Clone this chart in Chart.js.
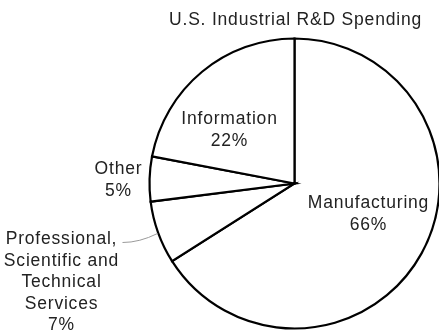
<!DOCTYPE html>
<html>
<head>
<meta charset="utf-8">
<script src="https://cdn.jsdelivr.net/npm/chart.js@4.4.1/dist/chart.umd.min.js"></script>
<style>
  html, body { margin: 0; padding: 0; background: #fff; }
  #wrap { width: 439px; height: 331px; }
</style>
</head>
<body>
<div id="wrap"><canvas id="piechart"></canvas></div>
<script>
var chartTitle = "U.S. Industrial R&D Spending";
var sectors = ["Manufacturing", "Professional, Scientific and Technical Services", "Other", "Information"];
var shares = [66, 7, 5, 22];
var labelLines = [
  ["Manufacturing"],
  ["Professional,", "Scientific and", "Technical", "Services"],
  ["Other"],
  ["Information"]
];

// label block centres, measured from the pie centre
var labelSpots = [
  { dx: 74, dy: 20 },
  { dx: -233, dy: 56 },
  { dx: -176, dy: -14 },
  { dx: -65, dy: -64 }
];

var fontFamily = "'Liberation Sans', Arial, Helvetica, sans-serif";

var sliceLabels = {
  id: "sliceLabels",
  afterDatasetsDraw: function(chart) {
    var ctx = chart.ctx;
    var arc = chart.getDatasetMeta(0).data[0];
    var cx = arc.x, cy = arc.y;
    var lineH = 21.5;

    ctx.save();
    // thin leader line for the small professional services slice
    ctx.strokeStyle = "#9a9a9a";
    ctx.lineWidth = 1;
    ctx.beginPath();
    ctx.moveTo(cx - 172, cy + 59);
    ctx.quadraticCurveTo(cx - 155, cy + 59, cx - 137, cy + 50);
    ctx.stroke();

    ctx.fillStyle = "#222";
    ctx.font = "17.5px " + fontFamily;
    ctx.letterSpacing = "0.8px";
    ctx.textAlign = "center";
    ctx.textBaseline = "middle";

    ctx.fillText(chartTitle, cx + 1, 20);

    shares.forEach(function(v, i) {
      var lines = labelLines[i].concat([v + "%"]);
      var x = cx + labelSpots[i].dx;
      var y = cy + labelSpots[i].dy;
      lines.forEach(function(t, k) {
        ctx.fillText(t, x, y + k * lineH);
      });
    });
    ctx.restore();
  }
};

var ctx = document.getElementById("piechart").getContext("2d");
var myPieChart = new Chart(ctx, {
  type: "pie",
  data: {
    labels: sectors,
    datasets: [{
      data: shares,
      radius: 145,
      backgroundColor: "#fff",
      borderColor: "#000",
      borderWidth: 2.2,
      borderJoinStyle: "miter",
      hoverOffset: 0
    }]
  },
  options: {
    responsive: true,
    maintainAspectRatio: false,
    animation: false,
    layout: { padding: { left: 150, right: 0, top: 37, bottom: 1 } },
    plugins: {
      legend: { display: false },
      tooltip: { enabled: false },
      title: { display: false }
    }
  },
  plugins: [sliceLabels]
});
</script>
</body>
</html>
